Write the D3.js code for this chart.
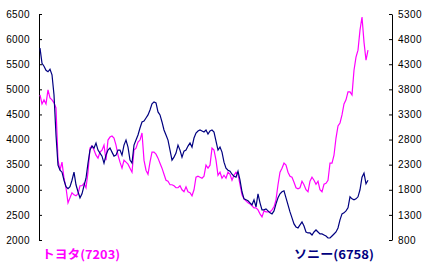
<!DOCTYPE html>
<html>
<head>
<meta charset="utf-8">
<script src="https://cdn.jsdelivr.net/npm/d3@7"></script>
<style>
body { margin: 0; background: #fff; }
</style>
</head>
<body>
<svg width="432" height="274"></svg>
<script>
// daily closes, left axis (magenta)
var toyota = [
  4890, 4710, 4790, 4710, 4990, 4830, 4790, 4730, 4630, 3590,
  3390, 3550, 3230, 3040, 2740, 2840, 2940, 2900, 2880, 2920,
  3080, 3080, 3130, 3040, 3350, 3830, 3870, 3790, 3690, 3630,
  3750, 3790, 3890, 3590, 3990, 4050, 4070, 4030, 3890, 3690,
  3550, 3430, 3590, 3550, 3510, 3430, 3350, 3790, 3830, 3950,
  3990, 4130, 3590, 3390, 3310, 3550, 3750, 3750, 3710, 3630,
  3530, 3430, 3310, 3190, 3170, 3100, 3100, 3080, 3040, 3040,
  3080, 3000, 2960, 3060, 2960, 2940, 2880, 3000, 3250, 3270,
  3250, 3230, 3270, 3490, 3430, 3490, 3830, 3790, 3590, 3290,
  3350, 3230, 3290, 3230, 3350, 3310, 3190, 3290, 3350, 3310,
  3100, 2900, 2820, 2780, 2740, 2720, 2680, 2640, 2640, 2600,
  2520, 2460, 2580, 2560, 2560, 2560, 2600, 2660, 2800, 3100,
  3350, 3430, 3530, 3490, 3350, 3270, 3250, 3150, 3040, 3020,
  3040, 3170, 3100, 3000, 2960, 3170, 3250, 3190, 3110, 3170,
  3000, 2960, 3110, 3130, 3190, 3530, 3530, 3690, 4030, 4270,
  4330, 4490, 4710, 4790, 4950, 4950, 4890, 5380, 5640, 5780,
  6180, 6440, 5940, 5580, 5780
];

// daily closes, right axis (navy)
var sony = [
  4620, 4320, 4260, 4180, 4150, 4200, 4090, 3690, 2890, 2290,
  2190, 2150, 1990, 1860, 1820, 1860, 1990, 2150, 1900, 1760,
  1640, 1720, 1880, 2030, 2330, 2590, 2670, 2630, 2730, 2590,
  2530, 2470, 2330, 2490, 2590, 2630, 2550, 2470, 2490, 2590,
  2590, 2490, 2690, 2790, 2650, 2390, 2330, 2690, 2790, 2890,
  3030, 3150, 3170, 3230, 3290, 3390, 3510, 3550, 3530, 3350,
  3290, 3150, 2990, 2890, 2790, 2590, 2390, 2450, 2530, 2690,
  2590, 2450, 2570, 2590, 2670, 2730, 2650, 2830, 2930, 2970,
  2990, 2970, 2950, 2990, 2910, 2970, 2990, 2950, 2770, 2590,
  2650, 2550, 2350, 2230, 2190, 2170, 2110, 2070, 2050, 2170,
  1990, 1760, 1620, 1600, 1580, 1540, 1500, 1600, 1460, 1720,
  1540, 1400, 1400, 1420, 1380, 1340, 1320, 1380, 1520, 1640,
  1720, 1760, 1780, 1640, 1500, 1360, 1240, 1120, 1060, 1040,
  1100, 1160, 1080, 960, 940, 940, 900, 960, 1000, 960,
  920, 920, 900, 880, 840, 840, 880, 920, 960, 1040,
  1200, 1320, 1340, 1380, 1440, 1660, 1620, 1600, 1620, 1660,
  1800, 2050, 2130, 1920, 1990
];

var leftTicks = [2000, 2500, 3000, 3500, 4000, 4500, 5000, 5500, 6000, 6500];
var rightTicks = [800, 1300, 1800, 2300, 2800, 3300, 3800, 4300, 4800, 5300];
var names = ["トヨタ(7203)", "ソニー(6758)"];

var svg = d3.select("svg");

var x = d3.scaleLinear().domain([0, toyota.length - 1]).range([40, 368]);
var yL = d3.scaleLinear().domain([2000, 6500]).range([240, 14]);
var yR = d3.scaleLinear().domain([800, 5300]).range([240, 14]);

// axes, ticks point into the plot
svg.append("g")
    .attr("transform", "translate(39,0)")
    .call(d3.axisLeft(yL).tickValues(leftTicks).tickFormat(d3.format("d"))
      .tickSizeInner(-3).tickSizeOuter(0).tickPadding(9));

svg.append("g")
    .attr("transform", "translate(392,0)")
    .call(d3.axisRight(yR).tickValues(rightTicks).tickFormat(d3.format("d"))
      .tickSizeInner(-3).tickSizeOuter(0).tickPadding(6));

svg.selectAll(".domain, .tick line").attr("stroke", "#000");
svg.selectAll(".tick text")
    .attr("fill", "#000")
    .style("font-family", "'Liberation Sans', Arial, sans-serif")
    .style("font-size", "10px")
    .style("letter-spacing", "0.4px");

var lineL = d3.line()
    .x(function(d, i) { return x(i); })
    .y(function(d) { return yL(d); });

var lineR = d3.line()
    .x(function(d, i) { return x(i); })
    .y(function(d) { return yR(d); });

svg.append("path")
    .datum(toyota)
    .attr("fill", "none")
    .attr("stroke", "#ff00ff")
    .attr("stroke-width", 1.2)
    .attr("d", lineL);

svg.append("path")
    .datum(sony)
    .attr("fill", "none")
    .attr("stroke", "#000080")
    .attr("stroke-width", 1.2)
    .attr("d", lineR);

// series names under the plot
svg.append("text")
    .attr("x", 42)
    .attr("y", 259)
    .attr("textLength", 78)
    .attr("lengthAdjust", "spacingAndGlyphs")
    .attr("fill", "#ff00ff")
    .style("font-family", "'Noto Sans CJK JP', sans-serif")
    .style("font-weight", "bold")
    .style("font-size", "12px")
    .text(names[0]);

svg.append("text")
    .attr("x", 294)
    .attr("y", 259)
    .attr("textLength", 80)
    .attr("lengthAdjust", "spacingAndGlyphs")
    .attr("fill", "#000080")
    .style("font-family", "'Noto Sans CJK JP', sans-serif")
    .style("font-weight", "bold")
    .style("font-size", "12px")
    .text(names[1]);
</script>
</body>
</html>
